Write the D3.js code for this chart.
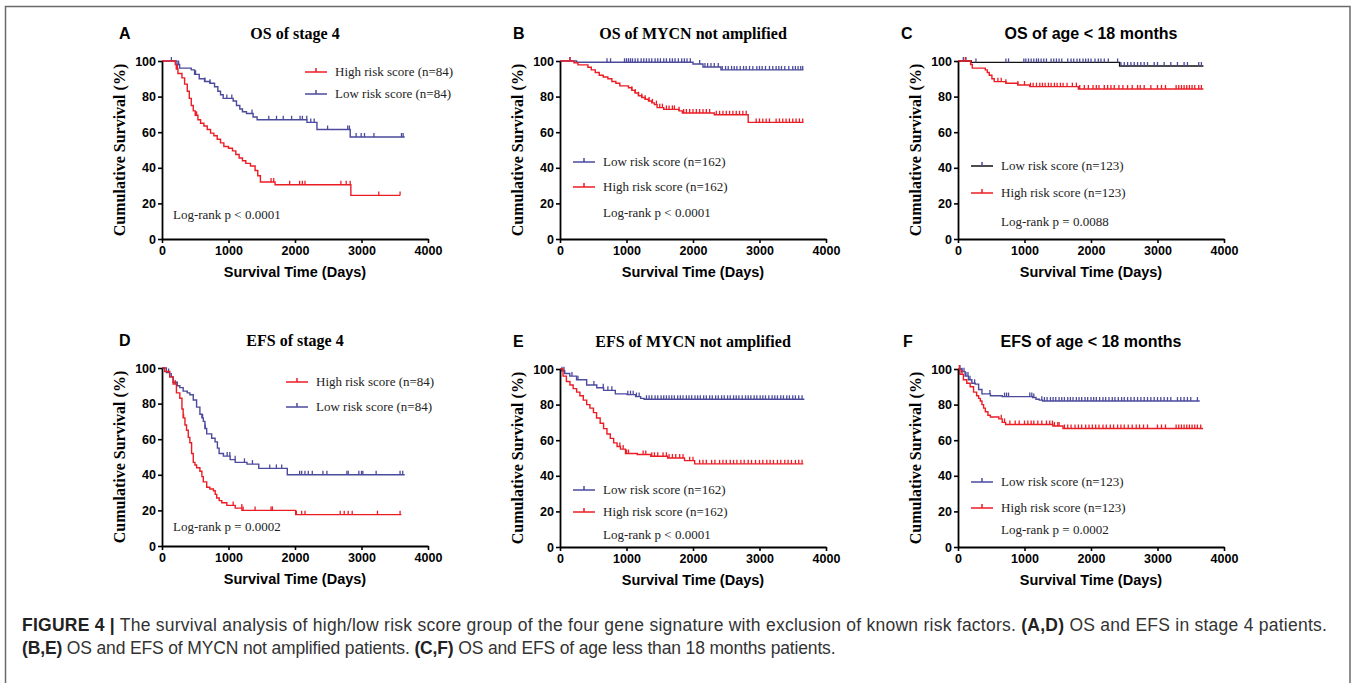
<!DOCTYPE html>
<html>
<head>
<meta charset="utf-8">
<script src="https://cdn.jsdelivr.net/npm/d3@7"></script>
<style>
  body { margin: 0; background: #fff; }
  svg { display: block; }
</style>
</head>
<body>
<div id="viz"></div>
<script>
// Kaplan-Meier step points [days, % survival]; last point marks end of follow-up
const osStage4High = [[0,100],[200,98],[215,95.5],[240,93],[300,90.5],[340,87],[380,83],[410,79],[440,75],[470,72],[500,69.5],[540,67],[580,65],[630,63.5],[680,61.5],[730,59.5],[780,58],[830,56],[880,54],[930,52],[1000,51],[1060,49.5],[1110,47.5],[1160,45.5],[1210,44],[1260,42.5],[1330,41],[1400,38.5],[1440,35.5],[1480,32],[1700,30.5],[2840,24.5],[3580,24.5]];
const osStage4HighCens = [232,520,1640,1680,1920,2070,2110,2150,2690,2770,2830,3260,3580];
const osStage4Low = [[0,100],[225,98],[265,96],[440,95],[490,92.5],[560,90],[640,88.5],[720,87.5],[790,85.5],[840,83],[880,81],[920,79],[1070,77.5],[1120,75],[1170,73],[1210,71.5],[1270,70.5],[1370,68.5],[1430,67],[2180,65.5],[2330,61.5],[2830,57.3],[3650,57.3]];
const osStage4LowCens = [141,250,505,646,722,975,1050,1354,1606,1722,1823,1949,2076,2111,2177,2237,2288,2490,2793,2818,2919,2995,3045,3187,3601,3626];

const osMycnLow = [[0,100],[250,99.3],[2000,98.3],[2150,96.6],[2420,95],[3660,95]];
const osMycnLowCens = [150,707,760,970,1000,1030,1060,1090,1130,1170,1220,1260,1300,1340,1380,1430,1470,1510,1560,1600,1650,1690,1730,1780,1830,1870,1910,1960,2100,2180,2220,2270,2320,2380,2440,2490,2530,2580,2620,2660,2710,2760,2800,2850,2900,2960,3000,3040,3090,3150,3200,3250,3290,3330,3380,3440,3500,3540,3580,3620,3650];
const osMycnHigh = [[0,100],[210,99],[270,97.8],[420,96.5],[470,95],[530,93.5],[590,92],[650,91],[720,90],[780,88.5],[840,87.5],[900,86],[1030,85],[1080,83.5],[1130,82],[1180,80.5],[1230,79.5],[1280,78.5],[1330,77.5],[1380,76.5],[1420,75.5],[1460,73.8],[1560,72.8],[1790,72],[1840,70.8],[2320,69.8],[2830,65.5],[3660,65.5]];
const osMycnHighCens = [150,1080,1130,1180,1230,1280,1340,1390,1450,1500,1540,1600,1640,1690,1720,1790,1860,1900,1950,2000,2050,2100,2150,2200,2250,2350,2400,2450,2500,2550,2600,2650,2700,2750,2800,2950,3000,3050,3100,3150,3250,3300,3350,3400,3450,3500,3550,3600,3650];

const osAgeLow = [[0,100],[200,99.2],[2430,97.2],[3690,97.2]];
const osAgeLowCens = [80,120,270,720,760,990,1020,1060,1100,1140,1180,1210,1250,1290,1330,1400,1440,1480,1520,1560,1650,1700,1740,1790,1830,1880,1920,1960,2000,2060,2110,2150,2200,2260,2400,2450,2500,2550,2600,2650,2700,2750,2800,2850,2950,3000,3100,3200,3300,3400,3450,3620,3660];
const osAgeHigh = [[0,100],[190,98],[215,96],[410,95],[440,93.5],[470,92],[510,90],[545,88.4],[720,87.5],[900,86.5],[1080,85.6],[1810,84.3],[3690,84.3]];
const osAgeHighCens = [110,190,600,650,720,900,1000,1090,1130,1180,1230,1270,1310,1360,1400,1450,1490,1540,1580,1640,1720,1780,1830,1900,1960,2030,2080,2120,2200,2250,2300,2350,2420,2480,2550,2620,2700,2740,2800,2900,3000,3060,3120,3280,3320,3360,3400,3440,3480,3520,3560,3620,3660];

const efsStage4High = [[0,100],[40,98],[116,95],[167,91],[217,86],[268,83],[300,77],[318,72],[345,68],[369,65],[395,61],[419,58],[445,52],[470,47],[495,45.5],[520,44],[570,42],[600,39],[621,36],[672,33],[720,32],[773,31],[800,29],[823,27],[860,25.5],[899,24.3],[975,22.8],[1101,21.3],[1202,20],[2010,17.6],[3600,17.6]];
const efsStage4HighCens = [200,325,1070,1200,1220,1400,1640,1660,2020,2100,2150,2680,2740,2800,2860,3240,3580];
const efsStage4Low = [[0,100],[66,97.5],[116,95],[167,92],[230,90],[268,89],[318,87],[380,86],[419,85],[470,82],[520,78],[570,74],[600,72],[621,70],[646,66],[672,63],[747,60.5],[798,58.5],[833,55],[859,52],[924,50.5],[1025,48.5],[1101,47],[1278,46],[1455,43.6],[1884,40],[3650,40]];
const efsStage4LowCens = [100,140,610,650,980,1020,1100,1240,1360,1620,1720,1800,2070,2100,2150,2200,2260,2420,2480,2780,2800,2960,3000,3020,3220,3580,3620];

const efsMycnLow = [[0,100],[30,99],[71,97.5],[147,96],[249,94],[401,91],[553,89.5],[655,88],[832,86],[1010,85.6],[1137,84.5],[1213,83.5],[1264,83],[3675,83]];
const efsMycnLowCens = [30,60,180,270,510,650,720,780,1020,1060,1100,1150,1190,1300,1340,1380,1430,1470,1520,1560,1600,1640,1680,1720,1770,1810,1850,1900,1940,1980,2030,2070,2110,2160,2200,2250,2290,2340,2380,2430,2470,2520,2560,2610,2650,2690,2740,2790,2830,2870,2920,2960,3010,3050,3090,3140,3190,3230,3270,3320,3360,3410,3450,3500,3540,3590,3640];
const efsMycnHigh = [[0,100],[46,96],[96,93],[150,91],[198,89],[250,87],[299,85],[350,82.5],[401,80],[450,78],[503,75.5],[550,72.5],[604,69.5],[655,66.5],[706,63.5],[756,61],[807,58.5],[858,56.5],[909,55],[985,52.5],[1162,52],[1365,51],[1619,50],[1873,48.5],[2025,46.7],[3660,46.7]];
const efsMycnHighCens = [900,950,1000,1030,1250,1290,1380,1420,1470,1550,1600,1640,1690,1740,1800,1850,1950,2000,2100,2150,2200,2280,2330,2400,2450,2500,2560,2610,2660,2720,2770,2830,2880,2940,3000,3050,3110,3160,3210,3270,3320,3380,3430,3480,3540,3590,3640];

const efsAgeLow = [[0,100],[56,98.5],[107,96],[157,94],[208,92],[259,91.5],[310,88.5],[360,86],[487,85],[665,84.5],[1122,84],[1173,83],[1223,82.5],[1274,82],[3635,82]];
const efsAgeLowCens = [30,60,90,120,150,180,250,480,700,730,760,1080,1110,1140,1260,1300,1340,1390,1430,1470,1520,1560,1600,1650,1690,1730,1780,1820,1860,1910,1950,2000,2040,2080,2130,2180,2220,2270,2320,2360,2410,2460,2500,2550,2600,2650,2700,2750,2800,2850,2900,2950,3000,3050,3100,3150,3200,3300,3350,3400,3450,3500,3600];
const efsAgeHigh = [[0,100],[30,97],[81,94],[132,92],[183,90],[234,87],[280,85],[310,83.5],[335,82],[360,80],[385,78],[411,76],[450,74],[487,73],[614,72],[665,70],[716,68.8],[1426,68],[1579,66.6],[3685,66.6]];
const efsAgeHighCens = [20,60,650,700,780,860,920,1000,1050,1100,1140,1200,1260,1330,1380,1420,1450,1500,1520,1600,1650,1700,1760,1810,1860,1920,1970,2020,2070,2120,2180,2230,2290,2340,2400,2450,2500,2560,2620,2680,2730,2790,2850,3000,3060,3120,3280,3320,3360,3400,3440,3480,3520,3560,3600,3650];

const xTicks = [0, 1000, 2000, 3000, 4000];
const yTicks = [0, 20, 40, 60, 80, 100];

const RED = '#ec1c24';
const BLUE = '#4b4a9c';
const SERIF = "'Liberation Serif','Times New Roman',serif";
const SANS = "'Liberation Sans',Arial,sans-serif";

const panels = [
  { letter: 'A', lx: 119, title: 'OS of stage 4', tfont: SERIF, ox: 162, oy: 61,
    curves: [[osStage4Low, osStage4LowCens, BLUE], [osStage4High, osStage4HighCens, RED]],
    legend: [[RED, RED, 'High risk score (n=84)'], [BLUE, BLUE, 'Low risk score (n=84)']],
    lgx: 305, lgy: 72, lgdy: 22, pval: 'Log-rank p < 0.0001', px: 173, py: 219 },
  { letter: 'B', lx: 513, title: 'OS of MYCN not amplified', tfont: SERIF, ox: 560, oy: 61,
    curves: [[osMycnLow, osMycnLowCens, BLUE], [osMycnHigh, osMycnHighCens, RED]],
    legend: [[BLUE, BLUE, 'Low risk score (n=162)'], [RED, RED, 'High risk score (n=162)']],
    lgx: 573, lgy: 162, lgdy: 25, pval: 'Log-rank p < 0.0001', px: 603, py: 217 },
  { letter: 'C', lx: 901, title: 'OS of age < 18 months', tfont: SANS, ox: 958, oy: 61,
    curves: [[osAgeLow, osAgeLowCens, BLUE, '#111'], [osAgeHigh, osAgeHighCens, RED]],
    legend: [['#111', BLUE, 'Low risk score (n=123)'], [RED, RED, 'High risk score (n=123)']],
    lgx: 971, lgy: 166, lgdy: 27, pval: 'Log-rank p = 0.0088', px: 1001, py: 226 },
  { letter: 'D', lx: 119, title: 'EFS of stage 4', tfont: SERIF, ox: 162, oy: 368,
    curves: [[efsStage4Low, efsStage4LowCens, BLUE], [efsStage4High, efsStage4HighCens, RED]],
    legend: [[RED, RED, 'High risk score (n=84)'], [BLUE, BLUE, 'Low risk score (n=84)']],
    lgx: 286, lgy: 382, lgdy: 25, pval: 'Log-rank p = 0.0002', px: 173, py: 531 },
  { letter: 'E', lx: 513, title: 'EFS of MYCN not amplified', tfont: SERIF, ox: 560, oy: 369,
    curves: [[efsMycnLow, efsMycnLowCens, BLUE], [efsMycnHigh, efsMycnHighCens, RED]],
    legend: [[BLUE, BLUE, 'Low risk score (n=162)'], [RED, RED, 'High risk score (n=162)']],
    lgx: 573, lgy: 490, lgdy: 22, pval: 'Log-rank p < 0.0001', px: 603, py: 539 },
  { letter: 'F', lx: 903, title: 'EFS of age < 18 months', tfont: SANS, ox: 958, oy: 369,
    curves: [[efsAgeLow, efsAgeLowCens, BLUE], [efsAgeHigh, efsAgeHighCens, RED]],
    legend: [[BLUE, BLUE, 'Low risk score (n=123)'], [RED, RED, 'High risk score (n=123)']],
    lgx: 971, lgy: 482, lgdy: 26, pval: 'Log-rank p = 0.0002', px: 1001, py: 534 }
];

const PW = 266, PH = 178;

const svg = d3.select('#viz')
  .append('svg')
  .attr('width', 1354)
  .attr('height', 683);

svg.append('rect')
  .attr('x', 5.5).attr('y', 6.5)
  .attr('width', 1344.5).attr('height', 700)
  .attr('fill', 'none')
  .attr('stroke', '#6a6a6a')
  .attr('stroke-width', 1.5);

const x = d3.scaleLinear().domain([0, 4000]).range([0, PW]);
const y = d3.scaleLinear().domain([0, 100]).range([PH, 0]);
const stepLine = d3.line().x(d => x(d[0])).y(d => y(d[1])).curve(d3.curveStepAfter);
const bis = d3.bisector(d => d[0]).right;

const survAt = (steps, t) => steps[Math.max(0, bis(steps, t) - 1)][1];

const drawPanel = (p) => {
  const g = svg.append('g').attr('transform', `translate(${p.ox},${p.oy})`);

  // panel letter and title
  svg.append('text')
    .attr('x', p.lx).attr('y', p.oy - 22)
    .attr('font-family', SANS).attr('font-weight', 'bold').attr('font-size', 16)
    .text(p.letter);
  svg.append('text')
    .attr('x', p.ox + PW / 2).attr('y', p.oy - 22)
    .attr('text-anchor', 'middle')
    .attr('font-family', p.tfont).attr('font-weight', 'bold')
    .attr('font-size', 16)
    .text(p.title);

  // curves
  p.curves.forEach(([steps, cens, color, lineColor]) => {
    g.append('path')
      .attr('d', stepLine(steps))
      .attr('fill', 'none')
      .attr('stroke', lineColor || color)
      .attr('stroke-width', 1.4);
    g.selectAll(null)
      .data(cens)
      .enter()
      .append('line')
      .attr('x1', d => x(d)).attr('x2', d => x(d))
      .attr('y1', d => y(survAt(steps, d)))
      .attr('y2', d => y(survAt(steps, d)) - 4)
      .attr('stroke', color)
      .attr('stroke-width', 1.3);
  });

  // axes
  const ya = g.append('g')
    .call(d3.axisLeft(y).tickValues(yTicks).tickSize(4).tickSizeOuter(0).tickPadding(2));
  const xa = g.append('g')
    .attr('transform', `translate(0,${PH})`)
    .call(d3.axisBottom(x).tickValues(xTicks).tickFormat(d3.format('d'))
      .tickSize(4).tickSizeOuter(0).tickPadding(3));
  [ya, xa].forEach(a => {
    a.select('.domain').attr('stroke', '#000').attr('stroke-width', 1.8);
    a.selectAll('.tick line').attr('stroke', '#000').attr('stroke-width', 1.6);
    a.selectAll('.tick text')
      .attr('fill', '#000')
      .attr('font-family', SANS).attr('font-weight', 'bold').attr('font-size', 12.5);
  });

  // axis titles
  g.append('text')
    .attr('transform', `translate(-37,${PH / 2}) rotate(-90)`)
    .attr('text-anchor', 'middle')
    .attr('font-family', SERIF).attr('font-weight', 'bold').attr('font-size', 16)
    .text('Cumulative Survival (%)');
  g.append('text')
    .attr('x', PW / 2).attr('y', PH + 38)
    .attr('text-anchor', 'middle')
    .attr('font-family', SANS).attr('font-weight', 'bold').attr('font-size', 14.5)
    .text('Survival Time (Days)');

  // legend
  p.legend.forEach(([lineColor, tickColor, label], i) => {
    const ly = p.lgy + i * p.lgdy;
    svg.append('line')
      .attr('x1', p.lgx).attr('x2', p.lgx + 22)
      .attr('y1', ly).attr('y2', ly)
      .attr('stroke', lineColor).attr('stroke-width', 1.5);
    svg.append('line')
      .attr('x1', p.lgx + 11).attr('x2', p.lgx + 11)
      .attr('y1', ly).attr('y2', ly - 4)
      .attr('stroke', tickColor).attr('stroke-width', 1.5);
    svg.append('text')
      .attr('x', p.lgx + 30).attr('y', ly + 4)
      .attr('font-family', SERIF).attr('font-size', 13).attr('fill', '#222')
      .text(label);
  });

  svg.append('text')
    .attr('x', p.px).attr('y', p.py)
    .attr('font-family', SERIF).attr('font-size', 13).attr('fill', '#222')
    .text(p.pval);
};

panels.forEach(drawPanel);

// caption
const CAP = "'Liberation Sans Narrow','Arial Narrow','Liberation Sans',sans-serif";
const capLines = [
  [['FIGURE 4 |', true], [' The survival analysis of high/low risk score group of the four gene signature with exclusion of known risk factors. ', false], ['(A,D)', true], [' OS and EFS in stage 4 patients.', false]],
  [['(B,E)', true], [' OS and EFS of MYCN not amplified patients. ', false], ['(C,F)', true], [' OS and EFS of age less than 18 months patients.', false]]
];
const capSpacing = [0.25, -0.15];
capLines.forEach((parts, i) => {
  const t = svg.append('text')
    .attr('x', 22).attr('y', 631 + i * 23)
    .attr('font-family', CAP).attr('font-size', 17.5).attr('fill', '#333')
    .attr('letter-spacing', capSpacing[i])
    .attr('xml:space', 'preserve');
  parts.forEach(([s, b]) => {
    t.append('tspan')
      .attr('font-weight', b ? 'bold' : 'normal')
      .attr('fill', b ? '#222' : '#333')
      .text(s);
  });
});
</script>
</body>
</html>
